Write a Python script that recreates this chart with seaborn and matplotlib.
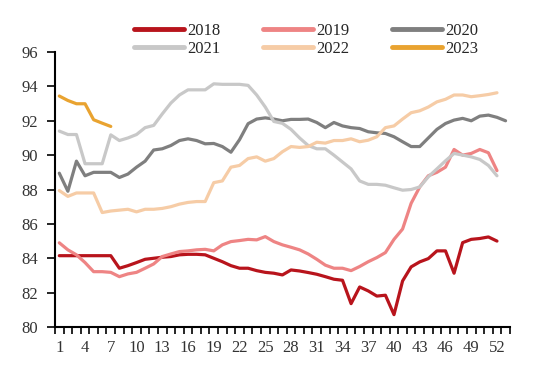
import numpy as np
import pandas as pd
import matplotlib
matplotlib.use('Agg')
import matplotlib.pyplot as plt
import seaborn as sns


years = ['2018', '2019', '2020', '2021', '2022', '2023']

v2018 = [84.15, 84.15, 84.15, 84.15, 84.15, 84.15, 84.15, 83.42, 83.57, 83.75,
	83.94, 84.0, 84.06, 84.1, 84.2, 84.23, 84.23, 84.2, 84.0, 83.8,
	83.57, 83.42, 83.42, 83.28, 83.18, 83.13, 83.03, 83.32, 83.26, 83.17,
	83.07, 82.93, 82.78, 82.72, 81.36, 82.33, 82.1, 81.8, 81.85, 80.72,
	82.68, 83.5, 83.79, 83.98, 84.43, 84.43, 83.13, 84.91, 85.1, 85.15,
	85.24, 85.0]
v2019 = [84.9, 84.49, 84.2, 83.75, 83.22, 83.22, 83.18, 82.93, 83.09, 83.18,
	83.42, 83.67, 84.1, 84.25, 84.39, 84.43, 84.49, 84.52, 84.43, 84.78,
	84.97, 85.03, 85.1, 85.07, 85.26, 84.97, 84.78, 84.64, 84.49, 84.25,
	83.94, 83.6, 83.42, 83.42, 83.28, 83.52, 83.8, 84.04, 84.33, 85.1,
	85.7, 87.2, 88.15, 88.8, 89.0, 89.3, 90.33, 90.0, 90.1, 90.33,
	90.14, 89.1]
v2020 = [88.95, 87.9, 89.65, 88.8, 89.0, 89.0, 89.0, 88.7, 88.9, 89.3,
	89.65, 90.3, 90.37, 90.56, 90.85, 90.95, 90.85, 90.66, 90.68, 90.5,
	90.17, 90.9, 91.83, 92.1, 92.17, 92.1, 92.0, 92.08, 92.08, 92.1,
	91.9, 91.6, 91.9, 91.7, 91.6, 91.55, 91.36, 91.3, 91.26, 91.07,
	90.78, 90.5, 90.5, 91.0, 91.5, 91.84, 92.04, 92.14, 92.0, 92.27,
	92.33, 92.2, 92.0]
v2021 = [91.4, 91.2, 91.2, 89.5, 89.5, 89.5, 91.18, 90.85, 91.0, 91.2,
	91.6, 91.73, 92.4, 93.03, 93.5, 93.8, 93.8, 93.8, 94.15, 94.12,
	94.12, 94.12, 94.06, 93.5, 92.8, 91.96, 91.85, 91.5, 91.0, 90.56,
	90.37, 90.37, 90.0, 89.6, 89.2, 88.5, 88.3, 88.3, 88.25, 88.1,
	87.96, 88.0, 88.15, 88.74, 89.2, 89.67, 90.1, 90.0, 89.9, 89.75,
	89.4, 88.8]
v2022 = [87.94, 87.6, 87.8, 87.8, 87.8, 86.66, 86.75, 86.8, 86.85, 86.7,
	86.85, 86.85, 86.9, 87.0, 87.15, 87.25, 87.3, 87.3, 88.4, 88.5,
	89.3, 89.4, 89.8, 89.9, 89.65, 89.8, 90.2, 90.5, 90.45, 90.5,
	90.75, 90.7, 90.85, 90.85, 90.95, 90.78, 90.87, 91.07, 91.6, 91.7,
	92.1, 92.47, 92.58, 92.8, 93.1, 93.25, 93.5, 93.5, 93.4, 93.46,
	93.53, 93.63]
v2023 = [93.44, 93.18, 92.99, 92.99, 92.06, 91.86, 91.67]

colors = ['#B8141C', '#EE8484', '#7F7F7F', '#C8C8C8', '#F6CCA6', '#E9A330']


if __name__ == '__main__':

	series = [v2018, v2019, v2020, v2021, v2022, v2023]
	frames = []
	for yr, vals in zip(years, series):
		frames.append(pd.DataFrame({
			'week': np.arange(1, len(vals) + 1),
			'value': vals,
			'year': yr
		}))
	df = pd.concat(frames, ignore_index=True)

	sns.set_theme(style='white')
	plt.rcParams['font.family'] = ['Liberation Serif', 'DejaVu Serif']

	fig = plt.figure(figsize=(5.5, 3.77), dpi=100)
	ax = fig.add_axes([0.1, 0.1326, 0.827, 0.7294])

	sns.lineplot(
		data=df,
		x='week',
		y='value',
		hue='year',
		palette=dict(zip(years, colors)),
		linewidth=2.3,
		ax=ax
	)

	ax.set_xlim(0.5, 53.5)
	ax.set_ylim(80, 96)
	ax.set_xlabel('')
	ax.set_ylabel('')

	ax.set_yticks(np.arange(80, 97, 2))
	ax.set_xticks(np.arange(1, 53, 3))
	ax.set_xticks(np.arange(0.5, 54, 1), minor=True)
	ax.tick_params(axis='x', which='major', length=0, pad=9,
		labelsize=12, colors='#333333')
	ax.tick_params(axis='x', which='minor', length=5, width=1.2,
		direction='out', color='black', bottom=True)
	ax.tick_params(axis='y', length=6, width=1.2, direction='out',
		color='black', left=True, labelsize=12, pad=6, labelcolor='#333333')

	for s in ['top', 'right']:
		ax.spines[s].set_visible(False)
	for s in ['left', 'bottom']:
		ax.spines[s].set_color('black')
		ax.spines[s].set_linewidth(1.5)

	# legend in row order: 2018 2019 2020 / 2021 2022 2023
	handles, labels = ax.get_legend_handles_labels()
	ax.get_legend().remove()
	order = [0, 3, 1, 4, 2, 5]
	leg = fig.legend(
		[handles[i] for i in order],
		[labels[i] for i in order],
		ncol=3,
		loc='upper left',
		bbox_to_anchor=(134 / 550, 1 - 23 / 377),
		frameon=False,
		fontsize=12,
		handlelength=3.0,
		handletextpad=0.2,
		columnspacing=2.55,
		labelspacing=0.12,
		borderpad=0.0,
		borderaxespad=0.0
	)
	for ln in leg.get_lines():
		ln.set_linewidth(3.5)

	plt.savefig('out.png', dpi=100)
	plt.close()
